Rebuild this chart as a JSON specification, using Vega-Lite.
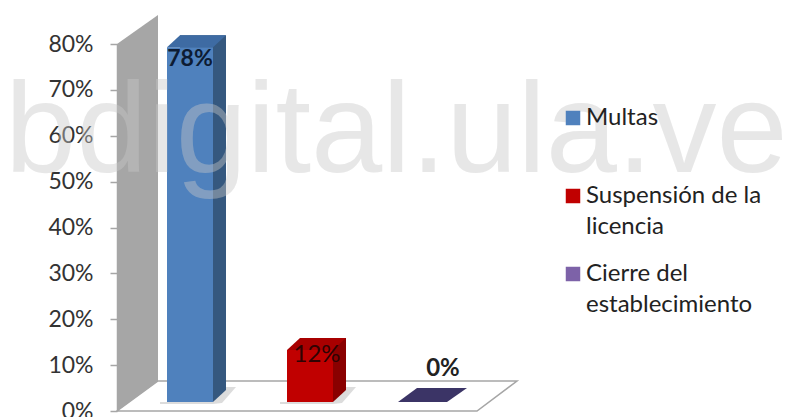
{
"$schema":"https://vega.github.io/schema/vega-lite/v6.json",
"width":674,"height":367,
"autosize":"none",
"padding":{"left":117,"top":44,"right":0,"bottom":6},
"background":"white",
"config":{"view":{"stroke":null},"font":"Lato"},
"data":{"values":[
{"categoria":"Multas","valor":78,"etiqueta":"78%"},
{"categoria":"Suspensión de la licencia","valor":12,"etiqueta":"12%"},
{"categoria":"Cierre del establecimiento","valor":0,"etiqueta":"0%"}
]},
"encoding":{
"x":{"field":"categoria","type":"nominal","sort":null,"scale":{"type":"point","domain":["Multas","Suspensión de la licencia","Cierre del establecimiento"],"range":[73,313],"padding":0},"axis":null},
"y":{"field":"valor","type":"quantitative","stack":null,"scale":{"domain":[0,80],"nice":false},"axis":{"values":[0,10,20,30,40,50,60,70,80],"title":null,"grid":false,"labelExpr":"datum.value + '%'","labelFont":"Lato","labelFontSize":23,"labelColor":"#333333","labelPadding":17,"tickSize":7,"tickColor":"#a6a6a6","domainColor":"#a6a6a6","domainWidth":1.5,"tickWidth":1.5}}
},
"layer":[
{"transform":[{"filter":"datum.categoria==='Multas'"}],
 "mark":{"type":"point","filled":true,"size":4,"opacity":1,"shape":"M-32 -30 L327 -30 L287 0 L-73 0 Z","fill":"white","stroke":"#a6a6a6","strokeWidth":1.5},
 "encoding":{"y":{"datum":0}}},
{"transform":[{"filter":"datum.categoria==='Multas'"}],
 "mark":{"type":"point","filled":true,"size":4,"opacity":1,"shape":"M-73 0 L-73 -367 L-32 -396 L-32 -30 Z","fill":"#a6a6a6","stroke":null},
 "encoding":{"y":{"datum":0}}},
{"transform":[{"filter":"datum.valor>0"}],
 "mark":{"type":"point","filled":true,"size":4,"opacity":0.3,"shape":"M-30 -9 L23 -9 L36 -24 L46 -24 L32 -8 L23 -7 L-30 -7 Z","fill":"#8a8a8a","stroke":null},
 "encoding":{"y":{"datum":0}}},
{"transform":[{"filter":"datum.valor>0"}],
 "mark":{"type":"bar","width":46,"xOffset":13,"yOffset":-18,"y2Offset":-21},
 "encoding":{"y2":{"datum":0},"color":{"condition":[{"test":"datum.categoria==='Multas'","value":"#35587f"}],"value":"#8a0000"}}},
{"transform":[{"filter":"datum.valor>0"}],
 "mark":{"type":"point","filled":true,"size":4,"opacity":1,"shape":"M23 -9 L36 -21 L23 -21 Z","stroke":null},
 "encoding":{"y":{"datum":0},"color":{"condition":[{"test":"datum.categoria==='Multas'","value":"#35587f"}],"value":"#8a0000"}}},
{"mark":{"type":"bar","width":46,"yOffset":-6,"y2Offset":-9},
 "encoding":{"y2":{"datum":0},"opacity":{"condition":{"test":"datum.valor==0","value":0},"value":1},"color":{"field":"categoria","type":"nominal","sort":null,"scale":{"domain":["Multas","Suspensión de la licencia","Cierre del establecimiento"],"range":["#4f81bd","#c00000","#7d62a8"]},
  "legend":{"title":null,"orient":"none","legendX":444,"legendY":62,"symbolType":"square","symbolSize":210,"symbolStrokeWidth":0,"symbolOpacity":1,"labelFont":"Lato","labelFontSize":24,"labelColor":"#222222","labelLimit":300,"labelOffset":1,"gridAlign":"all","rowPadding":23,"encode":{"labels":{"update":{"lineHeight":{"value":31}}}},"labelExpr":"datum.label==='Multas'?['Multas','']:datum.label==='Suspensión de la licencia'?['Suspensión de la','licencia']:['Cierre del','establecimiento']"}}}},
{"transform":[{"filter":"datum.valor>0"}],
 "mark":{"type":"point","filled":true,"size":4,"opacity":1,"shape":"M-23 -6 L-10 -18 L36 -18 L23 -6 Z","stroke":null},
 "encoding":{"color":{"condition":[{"test":"datum.categoria==='Multas'","value":"#3e6ba3"}],"value":"#a80000"}}},
{"transform":[{"filter":"datum.valor==0"}],
 "mark":{"type":"point","filled":true,"size":4,"opacity":1,"shape":"M-32 -9 L-13 -23 L37 -23 L17 -9 Z","fill":"#3b3466","stroke":null}},
{"transform":[{"filter":"datum.categoria==='Multas'"}],
 "mark":{"type":"text","fontSize":23,"fontWeight":"bold","font":"Lato","color":"#0d1c33","dy":6},
 "encoding":{"text":{"field":"etiqueta","type":"nominal"}}},
{"transform":[{"filter":"datum.categoria==='Suspensión de la licencia'"}],
 "mark":{"type":"text","fontSize":24,"font":"Lato","color":"#2e0303","dx":7,"dy":-1},
 "encoding":{"text":{"field":"etiqueta","type":"nominal"}}},
{"transform":[{"filter":"datum.valor==0"}],
 "mark":{"type":"text","fontSize":24,"fontWeight":"bold","font":"Lato","color":"#222222","dx":13,"dy":-42},
 "encoding":{"text":{"field":"etiqueta","type":"nominal"}}},
{"transform":[{"filter":"datum.categoria==='Multas'"}],
 "mark":{"type":"text","text":"bdigital.ula.ve","font":"Liberation Sans","fontSize":128,"align":"left","baseline":"alphabetic","dx":-185,"fill":"#c8c8c8","opacity":0.42},
 "encoding":{"y":{"datum":52}}}
]
}
